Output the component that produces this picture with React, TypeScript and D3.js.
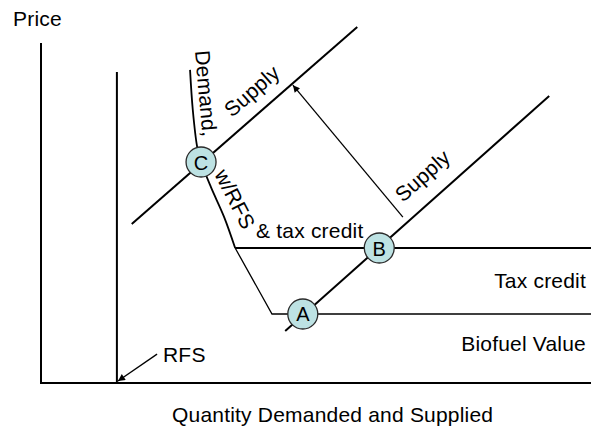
import React from "react";
import * as d3 from "d3";

const WIDTH = 591;
const HEIGHT = 432;
const FONT = "'Liberation Sans', Arial, sans-serif";

// quantity / price in arbitrary 0-100 units
const axisCorner: [number, number][] = [[0, 100], [0, 0], [100, 0]];
const rfsLine: [number, number][] = [[13.8, 91.5], [13.8, 0]];
const demandCurve: [number, number][] = [
  [27.1, 92.1], [27.6, 80.3], [28.4, 69.4], [29.1, 65], [30.9, 57.6], [33.3, 48.8], [35.3, 39.7],
];
const demandKink: [number, number][] = [[35.3, 39.7], [42, 20.3], [100, 20.3]];
const taxCreditLine: [number, number][] = [[35.3, 39.7], [100, 39.7]];
const supplyLow: [number, number][] = [[44.4, 15.3], [92.4, 84.4]];
const supplyHigh: [number, number][] = [[16.5, 46.8], [57.5, 104.7]];
const shiftArrow: [number, number][] = [[65.8, 48.8], [45.8, 87.6]];
const rfsArrow: [number, number][] = [[21.1, 8.5], [14, 0.6]];
const equilibria = [
  { label: "C", q: 29.1, p: 65 },
  { label: "B", q: 61.5, p: 39.7 },
  { label: "A", q: 47.6, p: 20.3 },
];

export default function App() {
  const x = d3.scaleLinear().domain([0, 100]).range([41, 591]);
  const y = d3.scaleLinear().domain([0, 100]).range([383, 43]);

  const line = d3
    .line<[number, number]>()
    .x((d) => x(d[0]))
    .y((d) => y(d[1]));
  const curve = d3
    .line<[number, number]>()
    .x((d) => x(d[0]))
    .y((d) => y(d[1]))
    .curve(d3.curveCatmullRom);

  const txt = {
    fontFamily: FONT,
    fontSize: 21,
    letterSpacing: 0.2,
    fill: "#000",
  };

  return (
    <svg
      width={WIDTH}
      height={HEIGHT}
      style={{ position: "absolute", left: 0, top: 0, background: "#fff" }}
    >
      <defs>
        <marker
          id="head"
          viewBox="0 0 10 10"
          refX={10}
          refY={5}
          markerWidth={9}
          markerHeight={7}
          markerUnits="userSpaceOnUse"
          orient="auto"
        >
          <path d="M0,0 L10,5 L0,10 z" fill="#000" />
        </marker>
      </defs>

      {/* axes + RFS mandate */}
      <path d={line(axisCorner) ?? ""} fill="none" stroke="#000" strokeWidth={2} />
      <path d={line(rfsLine) ?? ""} fill="none" stroke="#000" strokeWidth={2} />

      {/* demand w/ RFS & tax credit */}
      <path d={curve(demandCurve) ?? ""} fill="none" stroke="#000" strokeWidth={1.8} />
      <path d={line(demandKink) ?? ""} fill="none" stroke="#000" strokeWidth={1.3} />
      <path d={line(taxCreditLine) ?? ""} fill="none" stroke="#000" strokeWidth={2} />

      {/* supply curves */}
      <path d={line(supplyLow) ?? ""} fill="none" stroke="#000" strokeWidth={2} />
      <path d={line(supplyHigh) ?? ""} fill="none" stroke="#000" strokeWidth={2} />

      {/* arrows */}
      <path d={line(shiftArrow) ?? ""} fill="none" stroke="#000" strokeWidth={1.3} markerEnd="url(#head)" />
      <path d={line(rfsArrow) ?? ""} fill="none" stroke="#000" strokeWidth={1.3} markerEnd="url(#head)" />

      {/* equilibrium points */}
      {equilibria.map((d) => (
        <g key={d.label}>
          <circle cx={x(d.q)} cy={y(d.p)} r={15} fill="#bde2e3" stroke="#2a2a2a" strokeWidth={1.3} />
          <text
            x={x(d.q)}
            y={y(d.p) + 7.5}
            textAnchor="middle"
            style={{ ...txt, fontSize: 20, letterSpacing: 0 }}
          >
            {d.label}
          </text>
        </g>
      ))}

      {/* labels */}
      <text x={13} y={26} style={txt}>Price</text>
      <text x={172} y={422} style={txt}>Quantity Demanded and Supplied</text>
      <text x={586} y={288} textAnchor="end" style={txt}>Tax credit</text>
      <text x={586} y={351} textAnchor="end" style={txt}>Biofuel Value</text>
      <text x={256} y={238} style={txt}>&amp; tax credit</text>
      <text x={163} y={362} style={txt}>RFS</text>
      <text transform="translate(195,51) rotate(85)" style={txt}>Demand,</text>
      <text transform="translate(214,174) rotate(63)" style={txt}>w/RFS</text>
      <text transform="translate(232,118) rotate(-41.2)" style={txt}>Supply</text>
      <text transform="translate(403,203) rotate(-41.7)" style={txt}>Supply</text>
    </svg>
  );
}
